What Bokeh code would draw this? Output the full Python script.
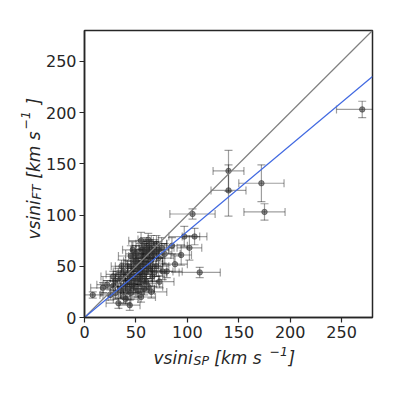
import math
from bokeh.plotting import figure
from bokeh.models import ColumnDataSource, Range1d, Whisker, TeeHead, Label, FixedTicker
from bokeh.embed import file_html
from bokeh.resources import INLINE

# ---- data: vsini from spectra (SP) vs vsini from Fourier transform (FT) ----
vsini_sp = [270, 140, 140, 172, 175, 105, 112, 97, 107, 102, 94, 85, 88, 80,
            8, 18, 22, 28, 30, 33, 35, 38, 40, 42, 44, 45, 46, 48, 48, 50, 50, 52, 52, 53,
            54, 55, 56, 57, 58, 58, 60, 60, 61, 62, 63, 64, 65, 66, 67, 68, 70, 70, 72, 73,
            75, 76, 78, 38, 42, 35, 45, 47, 55, 62, 30, 25, 40, 44, 55, 65, 48, 52, 58, 62,
            66, 54, 46, 42, 58, 68, 72, 50, 56, 60, 64, 38, 33, 28, 36, 60, 63, 57, 53, 49, 44]
vsini_ft = [203, 143, 124, 131, 103, 101, 44, 79, 79, 68, 61, 70, 52, 45,
            22, 29, 32, 31, 24, 14, 27, 20, 33, 28, 38, 24, 42, 30, 48, 36, 55, 42, 26, 60,
            48, 33, 66, 52, 40, 70, 58, 46, 64, 30, 68, 55, 72, 40, 62, 66, 50, 72, 58, 35,
            68, 45, 62, 45, 50, 38, 60, 66, 75, 76, 36, 22, 18, 12, 20, 25, 55, 50, 62, 50,
            58, 38, 32, 42, 28, 44, 66, 62, 45, 35, 48, 30, 42, 40, 50, 66, 62, 58, 45, 40, 36]
err_sp = [25, 15, 17, 22, 20, 22, 20, 15, 12, 12, 10, 15, 12, 15,
          10, 12, 10, 12, 14, 12, 10, 15, 12, 10, 14, 12, 10, 15, 12, 10, 12, 14, 16, 10,
          12, 15, 10, 12, 14, 12, 10, 15, 12, 14, 10, 12, 15, 12, 10, 14, 12, 10, 15, 14,
          12, 10, 15, 10, 12, 10, 12, 10, 12, 10, 12, 10, 12, 10, 14, 15, 8, 10, 12, 10,
          10, 12, 10, 12, 10, 12, 10, 10, 10, 12, 10, 10, 12, 12, 10, 10, 8, 10, 8, 10, 10]
err_ft = [8, 20, 25, 18, 8, 5, 5, 10, 8, 12, 10, 8, 8, 6,
          3, 5, 4, 5, 6, 5, 8, 6, 8, 10, 8, 6, 10, 8, 10, 12, 8, 10, 6, 10,
          8, 10, 8, 10, 12, 8, 10, 8, 10, 6, 8, 10, 8, 10, 12, 8, 10, 8, 8, 6,
          10, 8, 10, 8, 6, 8, 10, 8, 8, 6, 6, 5, 5, 5, 5, 6, 10, 8, 10, 8,
          10, 10, 8, 10, 6, 8, 8, 8, 10, 8, 10, 6, 6, 5, 6, 8, 8, 8, 8, 8, 8]

one_to_one = [0, 280]
fit_slope = 0.84
x_ticks = [0, 50, 100, 150, 200, 250]
y_ticks = [0, 50, 100, 150, 200, 250]
NB = "\u00a0"
label_main = "vsini" + NB * 4 + "[km" + NB + "s" + NB * 5 + "]"
x_label_sub = "SP"
y_label_sub = "FT"
unit_sup = "\u22121"

src = ColumnDataSource(dict(
    x=vsini_sp, y=vsini_ft,
    xl=[a - e for a, e in zip(vsini_sp, err_sp)], xu=[a + e for a, e in zip(vsini_sp, err_sp)],
    yl=[a - e for a, e in zip(vsini_ft, err_ft)], yu=[a + e for a, e in zip(vsini_ft, err_ft)],
))

p = figure(width=395, height=395, output_backend="svg", toolbar_location=None,
           x_range=Range1d(0, 280), y_range=Range1d(0, 280),
           min_border_left=84, min_border_right=23, min_border_top=30, min_border_bottom=78)

ink = "#262626"
p.grid.visible = False
p.outline_line_color = ink
p.outline_line_width = 1.5
for ax in (p.xaxis[0], p.yaxis[0]):
    ax.axis_line_color = ink
    ax.axis_line_width = 1.5
    ax.major_tick_line_color = ink
    ax.major_tick_line_width = 1.2
    ax.major_tick_out = 5
    ax.major_tick_in = 0
    ax.minor_tick_line_color = None
    ax.major_label_text_font = "DejaVu Sans"
    ax.major_label_text_font_size = "16px"
    ax.major_label_text_color = ink
    ax.major_label_standoff = 3
p.xaxis.ticker = FixedTicker(ticks=x_ticks)
p.yaxis.ticker = FixedTicker(ticks=y_ticks)

bar_col = "black"
for base, lo, hi, dim in (("y", "xl", "xu", "width"), ("x", "yl", "yu", "height")):
    p.add_layout(Whisker(source=src, base=base, lower=lo, upper=hi, dimension=dim,
                         line_color=bar_col, line_alpha=0.38, line_width=1.2,
                         upper_head=TeeHead(size=8, line_color=bar_col, line_alpha=0.38, line_width=1.2),
                         lower_head=TeeHead(size=8, line_color=bar_col, line_alpha=0.38, line_width=1.2)))
p.scatter("x", "y", source=src, size=5.5, color="#333333", alpha=0.55)

p.line(one_to_one, one_to_one, line_color="#808080", line_width=1.2)
p.line(one_to_one, [v * fit_slope for v in one_to_one], line_color="#4169E1", line_width=1.2)

# axis titles built from italic pieces, each in a side panel (panels are not clipped)
def lab(txt, sx, sy, size, side, angle=0):
    p.add_layout(Label(x=sx, y=sy, x_units="screen", y_units="screen", text=txt, angle=angle,
                       text_font="DejaVu Sans", text_font_style="italic",
                       text_font_size=size, text_color=ink,
                       text_align="left", text_baseline="alphabetic"), side)

a = math.pi / 2
lab(label_main, 69, 2.6, "17px", "below")
lab(x_label_sub, 109, 14.6, "12.5px", "below")
lab(unit_sup, 185, -321, "12.5px", "above")

lab(label_main, 11.8, 78, "17px", "left", a)
lab(y_label_sub, 29.3, 118, "12.5px", "left", a)
lab(unit_sup, -347.5, 188, "12.5px", "right", a)

open("out.html", "w").write(file_html(p, INLINE))
